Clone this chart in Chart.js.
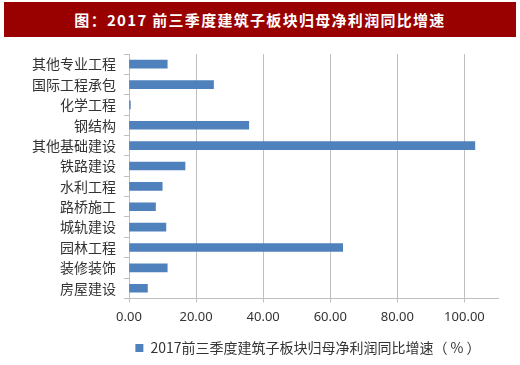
<!DOCTYPE html>
<html>
<head>
<meta charset="utf-8">
<script src="https://cdn.jsdelivr.net/npm/chart.js@4"></script>
<style>
  body { margin: 0; background: #fff; }
  #wrap { position: relative; width: 520px; height: 365px; }
  #titulo {
    position: absolute; left: 4px; top: 2px; width: 512px; height: 35px;
    background: #990000; color: #fff; text-align: center;
    font: bold 15px "Noto Sans CJK SC", sans-serif; line-height: 35px; letter-spacing: 1.3px;
  }
  #grafico { position: absolute; left: 0; top: 0; }
</style>
</head>
<body>
<div id="wrap">
  <div id="titulo">图：2017 前三季度建筑子板块归母净利润同比增速</div>
  <canvas id="grafico" width="520" height="365"></canvas>
</div>
<script>
const categorias = ['其他专业工程', '国际工程承包', '化学工程', '钢结构', '其他基础建设', '铁路建设',
    '水利工程', '路桥施工', '城轨建设', '园林工程', '装修装饰', '房屋建设'];
const valores = [11.4, 25.2, 0.4, 35.7, 103.1, 16.7, 9.9, 7.9, 11.0, 63.7, 11.4, 5.5];
const ticksX = [0, 20, 40, 60, 80, 100];

const cinza = '#bfbfbf';

// legenda centrada sob a area do grafico (estilo Excel)
const moverLegenda = {
    id: 'moverLegenda',
    afterLayout(chart) {
        const desloc = 59;
        chart.legend.left += desloc;
        chart.legend.right += desloc;
    }
};

const config = {
    type: 'bar',
    data: {
        labels: categorias,
        datasets: [{
            label: '2017前三季度建筑子板块归母净利润同比增速（ % ）',
            data: valores,
            backgroundColor: '#4f81bd',
            borderWidth: 0,
            barThickness: 8
        }]
    },
    options: {
        indexAxis: 'y',
        responsive: false,
        animation: false,
        layout: { padding: { top: 54, right: 22, left: 0, bottom: 0 } },
        plugins: {
            title: { display: false },
            tooltip: { enabled: false },
            legend: {
                position: 'bottom',
                labels: {
                    boxWidth: 8, boxHeight: 8, padding: 9,
                    color: '#333',
                    font: { family: '"Noto Sans CJK SC", sans-serif', size: 14 }
                }
            }
        },
        scales: {
            x: {
                min: 0,
                max: 110,
                afterBuildTicks: function (eixo) {
                    eixo.ticks = ticksX.map(v => ({ value: v }));
                },
                ticks: {
                    color: '#333',
                    padding: 7,
                    font: { family: '"Noto Sans", sans-serif', size: 13 },
                    callback: v => v.toFixed(2)
                },
                grid: { color: cinza, tickLength: 4 },
                border: { color: cinza }
            },
            y: {
                afterFit: function (eixo) { eixo.width = 129; },
                ticks: {
                    color: '#333',
                    padding: 8,
                    font: { family: '"Noto Sans CJK SC", sans-serif', size: 14 }
                },
                grid: { drawOnChartArea: false, color: cinza, tickLength: 5 },
                border: { color: cinza }
            }
        }
    },
    plugins: [moverLegenda]
};

const meuGrafico = new Chart(document.getElementById('grafico').getContext('2d'), config);
</script>
</body>
</html>
